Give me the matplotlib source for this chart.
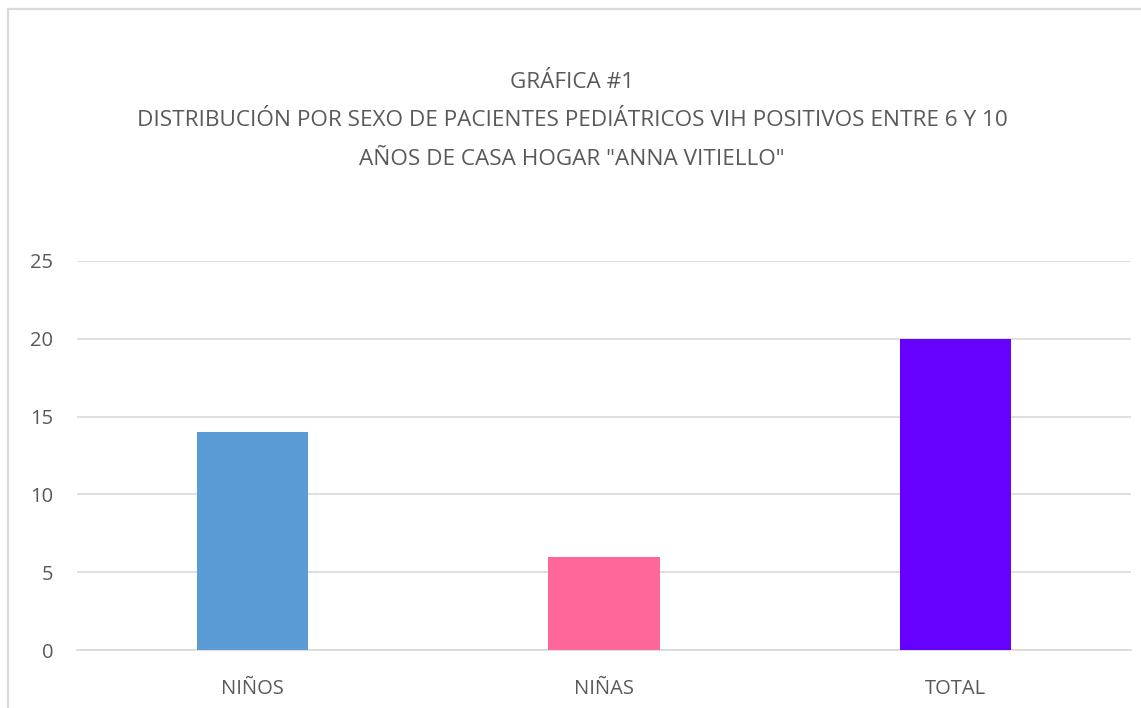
import matplotlib.pyplot as plt
from matplotlib.patches import Rectangle

categorias = ["NIÑOS", "NIÑAS", "TOTAL"]
pacientes = [14, 6, 20]
colores = ["#5B9BD5", "#FF6699", "#6600FF"]
titulo = ('GRÁFICA #1\nDISTRIBUCIÓN POR SEXO DE PACIENTES PEDIÁTRICOS VIH POSITIVOS ENTRE 6 Y 10\n'
          'AÑOS DE CASA HOGAR "ANNA VITIELLO"')

plt.rcParams['font.family'] = ['Open Sans', 'DejaVu Sans']
gris = "#595959"

W, H = 1141, 708
fig = plt.figure(figsize=(W / 100, H / 100), dpi=100)

# chart border (cut off on right and bottom)
fig.patches.append(Rectangle((7.5 / W, -0.1), 1.2, 1 - 8.5 / H + 0.1, transform=fig.transFigure,
                             fill=False, edgecolor="#d9d9d9", linewidth=1.6))

ax = fig.add_axes([77 / W, 1 - 650 / H, 1054 / W, 389 / H])
x = range(len(categorias))
ax.bar(x, pacientes, width=0.316, color=colores, zorder=3)

ax.set_xlim(-0.5, 2.5)
ax.set_ylim(0, 25)
ax.set_yticks([0, 5, 10, 15, 20, 25])
ax.set_xticks(list(x))
ax.set_xticklabels(categorias)
ax.grid(axis="y", color="#d9d9d9", linewidth=1.2, zorder=0)
for s in ["top", "right", "left"]:
    ax.spines[s].set_visible(False)
ax.spines["bottom"].set_color("#d9d9d9")
ax.spines["bottom"].set_linewidth(1.2)
ax.tick_params(length=0, labelsize=14.5, colors=gris)
ax.tick_params(axis="y", pad=17)
ax.tick_params(axis="x", pad=21)

fig.text(572 / W, 1 - 121 / H, titulo, ha="center", va="center", fontsize=16.2,
         color=gris, linespacing=2.08)

fig.savefig("out.png", dpi=100)
